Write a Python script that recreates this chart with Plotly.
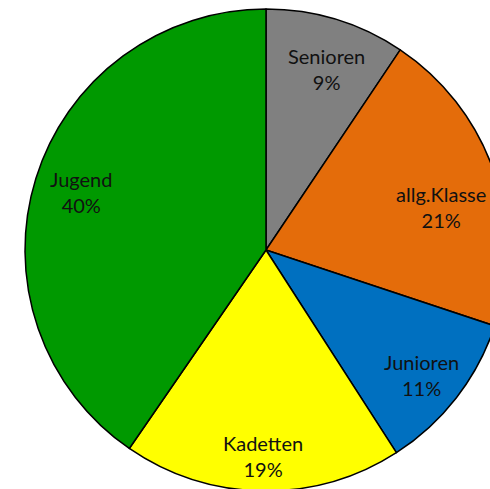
import math
import plotly.graph_objects as go

categories = ["Senioren", "allg.Klasse", "Junioren", "Kadetten", "Jugend"]
values = [9.4, 20.7, 10.8, 18.7, 40.4]
colors = ["#808080", "#E46C0A", "#0070C0", "#FFFF00", "#009900"]

# label placement style (radial fraction of radius, angular nudge in degrees)
label_frac = [0.79, 0.75, 0.83, 0.855, 0.805]
label_nudge = [1.5, 5.0, 1.0, 0.0, 0.0]

W, H = 532, 500
MT, MB = 9, 9
R = min(W, H - MT - MB) / 2.0

fig = go.Figure(go.Pie(
    labels=categories,
    values=values,
    sort=False,
    direction="clockwise",
    rotation=0,
    marker=dict(colors=colors, line=dict(color="#000000", width=1.5)),
    textposition="none",
    hoverinfo="label+percent",
    showlegend=False,
))

total = sum(values)
cum = 0.0
annotations = []
for cat, v, f, nd in zip(categories, values, label_frac, label_nudge):
    mid = (cum + v / 2.0) / total * 2 * math.pi + math.radians(nd)
    cum += v
    dx = R * f * math.sin(mid)
    dy = R * f * math.cos(mid)
    annotations.append(dict(
        x=0.5 + dx / W, y=0.5 + dy / (H - MT - MB),
        xref="paper", yref="paper",
        xanchor="center", yanchor="middle",
        text=f"{cat}<br>{round(v / total * 100)}%",
        showarrow=False,
        font=dict(family="Lato, Carlito, sans-serif", size=20, color="#111111"),
        align="center",
    ))

fig.update_layout(
    width=W, height=H,
    margin=dict(l=0, r=0, t=MT, b=MB),
    paper_bgcolor="white",
    plot_bgcolor="white",
    annotations=annotations,
)

fig.write_html(
    "out.html",
    config={"displayModeBar": False},
    post_script="document.body.style.margin='0';document.body.style.overflow='hidden';document.documentElement.style.overflow='hidden';",
)
